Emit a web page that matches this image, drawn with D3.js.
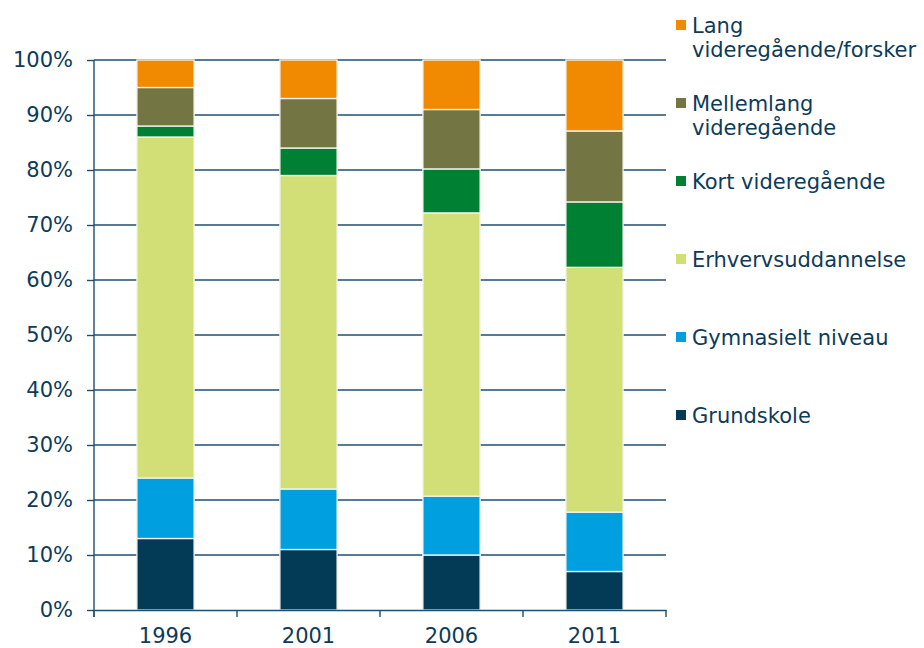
<!DOCTYPE html>
<html>
<head>
<meta charset="utf-8">
<script src="https://cdn.jsdelivr.net/npm/d3@7"></script>
<style>
  body { margin: 0; background: #fff; }
  svg text { font-family: "DejaVu Sans", Verdana, sans-serif; fill: #0d3b5a; }
</style>
</head>
<body>
<svg id="chart" width="924" height="648"></svg>
<script>
// years on the category axis
var years = ["1996", "2001", "2006", "2011"];

// series, stacked bottom to top (percent)
var grundskole  = [13, 11, 10, 7];
var gymnasielt  = [11, 11, 10.7, 10.8];
var erhverv     = [62, 57, 51.5, 44.5];
var kort        = [2, 5, 8, 11.9];
var mellemlang  = [7, 9, 10.8, 12.9];
var lang        = [5, 7, 9, 12.9];

var seriesNames = ["Grundskole", "Gymnasielt niveau", "Erhvervsuddannelse",
                   "Kort videregående", "Mellemlang videregående", "Lang videregående/forsker"];
var seriesValues = [grundskole, gymnasielt, erhverv, kort, mellemlang, lang];
var colors = ["#033a56", "#009fe0", "#d2de76", "#008032", "#737542", "#f18a00"];

// legend text, one entry per line
var legendLines = [["Grundskole"], ["Gymnasielt niveau"], ["Erhvervsuddannelse"],
                   ["Kort videregående"], ["Mellemlang", "videregående"], ["Lang", "videregående/forsker"]];

var yTicks = [0, 10, 20, 30, 40, 50, 60, 70, 80, 90, 100];

var svg = d3.select("#chart");
var axisColor = "#1f4f70";
var fontSize = "21px";

var plotLeft = 94, plotRight = 666, plotTop = 60, plotBottom = 610;

var x = d3.scaleBand().domain(years).range([plotLeft, plotRight]);
var y = d3.scaleLinear().domain([0, 100]).range([plotBottom, plotTop]);

// table for the stack
var table = years.map(function (yr, i) {
  var row = { year: yr };
  seriesNames.forEach(function (s, j) { row[s] = seriesValues[j][i]; });
  return row;
});
var stacked = d3.stack().keys(seriesNames)(table);

// gridlines
svg.append("g")
  .selectAll("line")
  .data(yTicks.filter(function (d) { return d > 0; }))
  .enter().append("line")
  .attr("x1", plotLeft).attr("x2", plotRight)
  .attr("y1", function (d) { return y(d); })
  .attr("y2", function (d) { return y(d); })
  .attr("stroke", axisColor)
  .attr("stroke-width", 1.4);

// Y axis
var yAxis = svg.append("g")
  .attr("transform", "translate(" + plotLeft + ",0)")
  .call(d3.axisLeft(y).tickValues(yTicks).tickSize(7).tickPadding(14)
    .tickFormat(function (d) { return d + "%"; }));
yAxis.select(".domain").remove();
yAxis.selectAll("line").attr("stroke", axisColor).attr("stroke-width", 1.4);
yAxis.selectAll("text").style("font-size", fontSize).attr("fill", "#0d3b5a");
svg.append("line")
  .attr("x1", plotLeft).attr("x2", plotLeft).attr("y1", plotTop).attr("y2", plotBottom + 7)
  .attr("stroke", axisColor).attr("stroke-width", 1.4);

// bars
var barW = x.bandwidth() * 0.4;
svg.append("g")
  .selectAll("g")
  .data(stacked)
  .enter().append("g")
  .attr("fill", function (d, i) { return colors[i]; })
  .selectAll("rect")
  .data(function (d) { return d; })
  .enter().append("rect")
  .attr("x", function (d) { return x(d.data.year) + (x.bandwidth() - barW) / 2; })
  .attr("width", barW)
  .attr("y", function (d) { return y(d[1]); })
  .attr("height", function (d) { return y(d[0]) - y(d[1]); })
  .attr("stroke", "#f4f4ee")
  .attr("stroke-width", 1.3);

// X axis
var xAxis = svg.append("g")
  .attr("transform", "translate(0," + plotBottom + ")")
  .call(d3.axisBottom(x).tickSize(0).tickPadding(18));
xAxis.select(".domain").attr("stroke", axisColor).attr("stroke-width", 1.4);
xAxis.selectAll("text").style("font-size", fontSize).attr("fill", "#0d3b5a");
svg.append("g")
  .selectAll("line")
  .data(years.map(function (d) { return x(d); }).concat([plotRight]))
  .enter().append("line")
  .attr("x1", function (d) { return d; }).attr("x2", function (d) { return d; })
  .attr("y1", plotBottom).attr("y2", plotBottom + 7)
  .attr("stroke", axisColor).attr("stroke-width", 1.4);

// legend, top entry = last series
var legendY = d3.scaleLinear().domain([0, 5]).range([415, 25]);
var lg = svg.append("g").selectAll("g")
  .data(seriesNames)
  .enter().append("g")
  .attr("transform", function (d, i) { return "translate(676," + legendY(i) + ")"; });
lg.append("rect")
  .attr("x", 0).attr("y", -5).attr("width", 10).attr("height", 10)
  .attr("fill", function (d, i) { return colors[i]; });
lg.append("text")
  .attr("x", 16)
  .attr("y", 0)
  .style("font-size", fontSize)
  .selectAll("tspan")
  .data(function (d, i) { return legendLines[i]; })
  .enter().append("tspan")
  .attr("x", 16)
  .attr("dy", function (d, k) { return k === 0 ? "0.36em" : "24px"; })
  .text(function (d) { return d; });
</script>
</body>
</html>
